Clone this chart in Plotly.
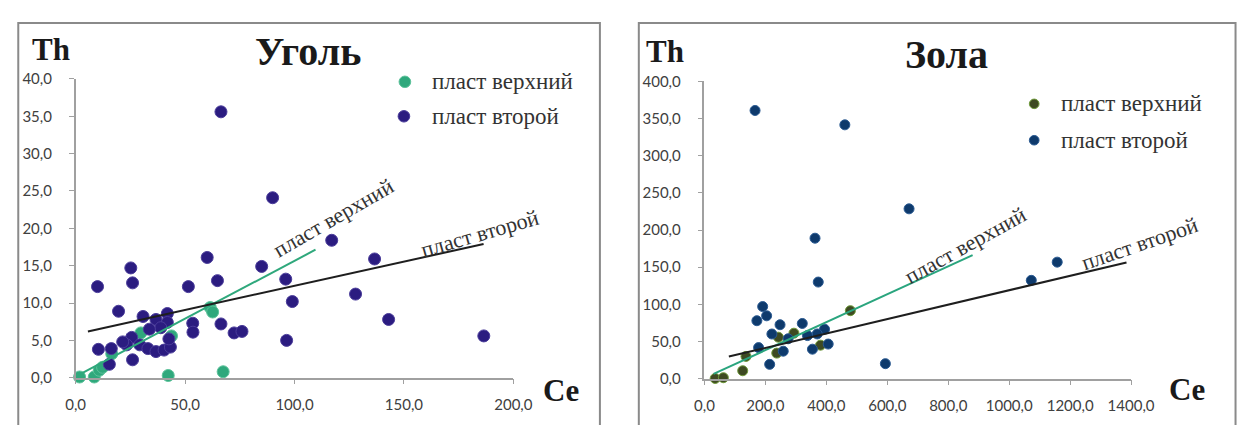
import plotly.graph_objects as go

# ---- Уголь (coal): Th vs Ce ----
coal_upper_ce = [1.8, 8.5, 10.8, 12.3, 16.5, 29.8, 43.8, 42.3, 61.5, 62.6, 67.4]
coal_upper_th = [0.1, 0.1, 1.0, 1.4, 3.2, 6.0, 5.6, 0.3, 9.4, 8.8, 0.8]

coal_second_ce = [66.4, 90.0, 117.0, 136.6, 85.0, 60.1, 25.2, 26.0, 10.0, 51.5,
                  64.8, 96.0, 99.0, 127.9, 143.0, 186.5, 96.4, 66.4, 72.4, 76.0,
                  53.5, 53.6, 19.6, 30.8, 10.4, 16.3, 15.4, 26.0, 36.7, 41.9,
                  41.9, 38.9, 33.7, 25.6, 23.3, 29.3, 33.0, 36.7, 40.4, 43.3,
                  42.6, 21.5]
coal_second_th = [35.6, 24.1, 18.4, 15.9, 14.9, 16.1, 14.7, 12.7, 12.2, 12.2,
                  13.0, 13.2, 10.2, 11.2, 7.8, 5.6, 5.0, 7.2, 6.0, 6.2,
                  7.3, 6.1, 8.9, 8.2, 3.8, 3.9, 1.8, 2.4, 7.8, 8.6,
                  7.4, 6.7, 6.5, 5.4, 4.4, 4.4, 3.9, 3.5, 3.7, 4.1,
                  5.2, 4.8]

# linear trends: [slope, intercept], drawn over [x_start, x_end]
coal_upper_fit = [0.155, 0.15]
coal_upper_span = [1.2, 109.6]
coal_second_fit = [0.0647, 5.84]
coal_second_span = [5.6, 186.4]

# ---- Зола (ash): Th vs Ce ----
ash_upper_ce = [35.1, 62.0, 125.5, 136.2, 242.6, 237.2, 293.6, 380.8, 478.8]
ash_upper_th = [0.3, 1.3, 10.7, 30.0, 55.8, 34.4, 61.2, 45.1, 91.5]

ash_second_ce = [166.0, 460.7, 671.4, 362.8, 373.4, 191.0, 204.0, 172.0, 248.0,
                 321.0, 214.0, 593.7, 177.6, 258.5, 221.3, 354.3, 406.0, 394.0,
                 370.0, 338.0, 274.5, 1072.5, 1157.6]
ash_second_th = [360.8, 341.5, 228.5, 189.0, 130.0, 97.0, 84.6, 78.0, 72.6,
                 74.3, 19.3, 20.2, 41.8, 37.0, 60.1, 39.7, 46.6, 66.6,
                 60.2, 58.0, 53.7, 132.3, 156.8]

ash_upper_fit = [0.188, 0.8]
ash_upper_span = [30.0, 880.0]
ash_second_fit = [0.097, 22.0]
ash_second_span = [80.0, 1385.0]

coal_x_ticks = [0, 50, 100, 150, 200]
coal_y_ticks = [0, 5, 10, 15, 20, 25, 30, 35, 40]
ash_x_ticks = [0, 200, 400, 600, 800, 1000, 1200, 1400]
ash_y_ticks = [0, 50, 100, 150, 200, 250, 300, 350, 400]

series_names = ["пласт верхний", "пласт второй"]
panel_titles = ["Уголь", "Зола"]

W, H = 1243, 425


def px(x):
    return x / W


def py(y):
    return 1 - y / H


def trend(fit, span):
    xs = list(span)
    return xs, [fit[0] * x + fit[1] for x in xs]


SERIF = "Liberation Serif, Times New Roman, serif"
SANS = "Lato"
TEXT = "#333333"
AXIS = "#a0a0a0"

COAL_UP = dict(fill="#2fa87c", edge="#5cc29a", size=12)
COAL_SEC = dict(fill="#2b1c80", edge="#4a3c9a", size=12)
ASH_UP = dict(fill="#3e4a22", edge="#6f9a3a", size=10)
ASH_SEC = dict(fill="#0e3a6c", edge="#2a5a92", size=10)


def points(xs, ys, st, xa, ya, name):
    return go.Scatter(
        x=xs, y=ys, mode="markers", name=name, showlegend=False,
        marker=dict(size=st["size"], color=st["fill"], line=dict(width=1, color=st["edge"])),
        cliponaxis=False, xaxis=xa, yaxis=ya)


def line(fit, span, color, xa, ya):
    tx, ty = trend(fit, span)
    return go.Scatter(x=tx, y=ty, mode="lines", showlegend=False,
                      line=dict(color=color, width=2), xaxis=xa, yaxis=ya)


fig = go.Figure()

# coal panel: points, then trend lines on top
fig.add_trace(points(coal_upper_ce, coal_upper_th, COAL_UP, "x", "y", series_names[0]))
fig.add_trace(points(coal_second_ce, coal_second_th, COAL_SEC, "x", "y", series_names[1]))
fig.add_trace(line(coal_upper_fit, coal_upper_span, "#2fa87c", "x", "y"))
fig.add_trace(line(coal_second_fit, coal_second_span, "#1e1e1e", "x", "y"))

# ash panel
fig.add_trace(points(ash_upper_ce, ash_upper_th, ASH_UP, "x2", "y2", series_names[0]))
fig.add_trace(points(ash_second_ce, ash_second_th, ASH_SEC, "x2", "y2", series_names[1]))
fig.add_trace(line(ash_upper_fit, ash_upper_span, "#2aa57e", "x2", "y2"))
fig.add_trace(line(ash_second_fit, ash_second_span, "#1e1e1e", "x2", "y2"))

axis_common = dict(
    showline=True, linecolor=AXIS, linewidth=1.5, showgrid=False, zeroline=False,
    ticks="outside", ticklen=5, tickcolor=AXIS, tickformat=".1f",
    tickfont=dict(family=SANS, size=15, color="#404040"),
)

fig.update_layout(
    width=W, height=H, margin=dict(l=0, r=0, t=0, b=0),
    paper_bgcolor="white", plot_bgcolor="white",
    font=dict(family=SERIF, color=TEXT),
    separators=", ",
    showlegend=False,
    xaxis=dict(domain=[px(67.5), px(517.5)], range=[0, 200], tickvals=coal_x_ticks,
               anchor="y", ticklabelstandoff=8, **axis_common),
    yaxis=dict(domain=[py(384), py(72)], range=[0, 40], tickvals=coal_y_ticks,
               anchor="x", ticklabelstandoff=14, **axis_common),
    xaxis2=dict(domain=[px(714), px(1152.6)], range=[0, 1400], tickvals=ash_x_ticks,
                anchor="y2", ticklabelstandoff=8, **axis_common),
    yaxis2=dict(domain=[py(385), py(74.5)], range=[0, 400], tickvals=ash_y_ticks,
                anchor="x2", ticklabelstandoff=14, **axis_common),
)

# chart frames
frame = dict(type="rect", xref="paper", yref="paper",
             line=dict(color="#8a8a8a", width=2), fillcolor="rgba(0,0,0,0)", layer="below")
fig.add_shape(x0=px(8.5), x1=px(606.5), y0=py(440), y1=py(13.5), **frame)
fig.add_shape(x0=px(646.5), x1=px(1260), y0=py(440), y1=py(13.5), **frame)

ann = []


def label(x, y, text, size, bold=False, angle=0, color=TEXT, anchor="center"):
    ann.append(dict(x=px(x), y=py(y), xref="paper", yref="paper",
                    text=f"<b>{text}</b>" if bold else text,
                    showarrow=False, textangle=angle, xanchor=anchor, yanchor="middle",
                    font=dict(family=SERIF, size=size, color=color)))


def legend_entry(cx, cy, st, text, text_x):
    r = st["size"] / 2
    fig.add_shape(type="circle", xref="paper", yref="paper",
                  x0=px(cx - r), x1=px(cx + r), y0=py(cy + r), y1=py(cy - r),
                  fillcolor=st["fill"], line=dict(color=st["edge"], width=1))
    label(text_x, cy, text, 23, anchor="left")


# legends
legend_entry(406, 75, COAL_UP, series_names[0], 432)
legend_entry(405, 111, COAL_SEC, series_names[1], 432)
legend_entry(1053, 98, ASH_UP, series_names[0], 1079)
legend_entry(1053, 136, ASH_SEC, series_names[1], 1079)

label(306, 43, panel_titles[0], 40, bold=True, color="#1a1a1a")
label(963, 46, panel_titles[1], 40, bold=True, color="#1a1a1a")
label(42, 41, "Th", 31, bold=True, color="#1a1a1a")
label(673, 43, "Th", 31, bold=True, color="#1a1a1a")
label(566, 397, "Ce", 31, bold=True, color="#1a1a1a")
label(1210, 396, "Ce", 31, bold=True, color="#1a1a1a")

# trend-line captions
label(333, 217, series_names[0], 22, angle=-30)
label(483, 233, series_names[1], 22, angle=-16)
label(982, 246, series_names[0], 22, angle=-29)
label(1162, 244, series_names[1], 22, angle=-19)

fig.update_layout(annotations=ann)

fig.write_html("out.html")
